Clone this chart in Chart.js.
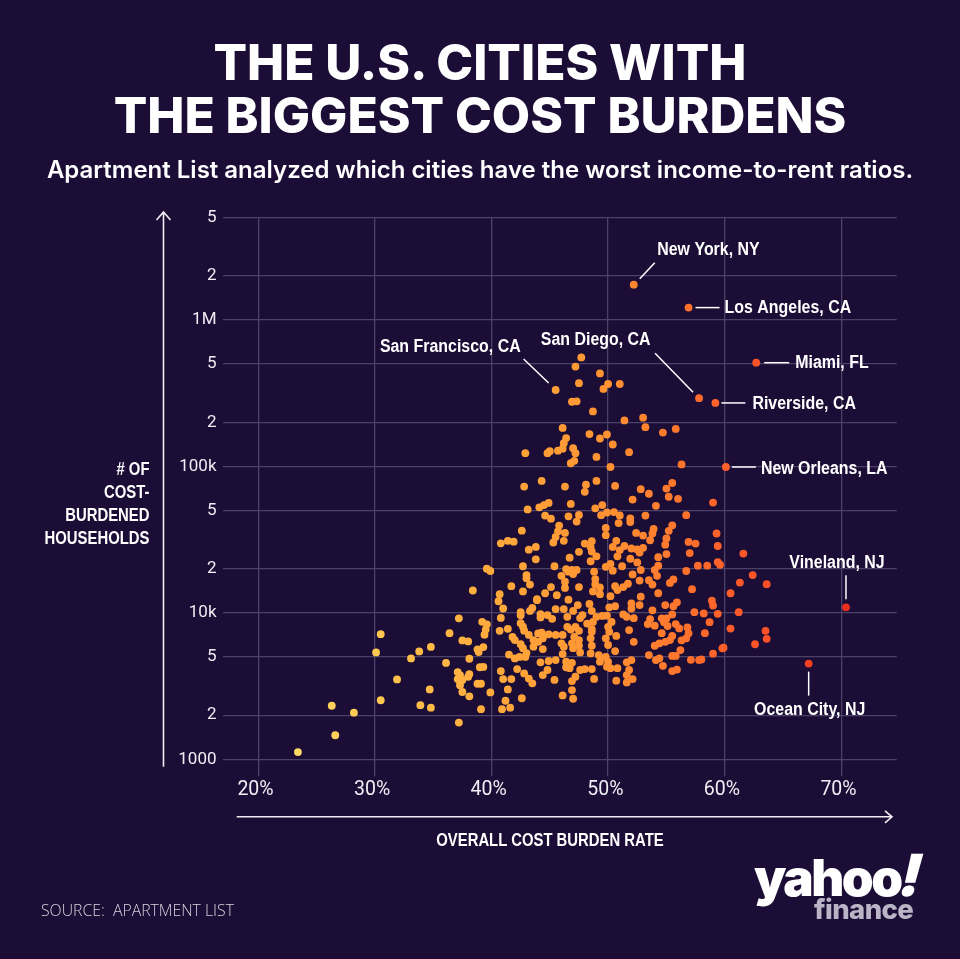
<!DOCTYPE html>
<html><head><meta charset="utf-8">
<script src="https://cdn.jsdelivr.net/npm/chart.js@4"></script>
<style>
html,body{margin:0;padding:0;background:#1b0d35;width:960px;height:959px;overflow:hidden}
#wrap{position:relative;width:960px;height:959px}
canvas{position:absolute;left:0;top:0}
.t{position:absolute;color:#fff;white-space:nowrap}
.h{font-family:Inter;font-weight:800;font-size:49.65px;line-height:54px;left:0;width:960px;text-align:center}
.n{font-family:"Liberation Sans";font-weight:700;font-size:17.5px;line-height:23px}
</style></head><body>
<div id="wrap">
<canvas id="c" width="960" height="959"></canvas>
<div class="t h" style="top:35px">THE U.S. CITIES WITH</div>
<div class="t h" style="top:88px">THE BIGGEST COST BURDENS</div>
<div class="t" style="left:0;width:960px;text-align:center;top:155px;font-family:Inter;font-weight:600;font-size:24px;line-height:30px">Apartment List analyzed which cities have the worst income-to-rent ratios.</div>
<div class="t n" style="right:811px;top:458px;text-align:right;transform:scaleX(.85);transform-origin:right top">&#35; OF<br>COST-<br>BURDENED<br>HOUSEHOLDS</div>
<div class="t n" style="left:0;width:1100px;text-align:center;top:829px;transform:scaleX(.85);transform-origin:550px 0">OVERALL COST BURDEN RATE</div>
<div class="t" style="left:41px;top:900px;font-family:'Open Sans';font-weight:300;font-size:15.8px;line-height:20px;color:#d5d2dc;white-space:pre">SOURCE:  APARTMENT LIST</div>
<div class="t" style="left:754px;top:848px;font-family:Inter;font-weight:900;font-size:51px;line-height:60px;letter-spacing:-2.5px">yahoo<span style="display:inline-block;transform:skewX(-14deg);font-size:58px;line-height:50px">!</span></div>
<div class="t" style="left:814px;top:894px;font-family:Inter;font-weight:800;font-size:27.5px;line-height:30px;letter-spacing:-.6px;color:#b9b5c6">finance</div>
</div>
<script>
const rates=[47.7,47.2,49.3,47.5,50,51,49.6,46.9,47.3,48.7,51.4,53,53.2,54.7,55.8,46.1,48.4,49.3,49.9,50.4,51.8,46.4,46.2,46.1,45.7,45,44.8,42.9,47,47.2,47.1,46.8,49,50.2,56.3,55.5,55,52.8,53.5,50.6,49,48.1,48,46.3,44.3,42.8,55.2,56,52.1,54.1,43.1,44.1,44.5,44.9,46.8,48.9,49.5,44.6,45.1,46.6,47.5,47.3,49.4,49.9,50.5,51,50.9,51.9,51.9,53.2,56.7,59,55.5,55.2,53.9,53.8,53.6,52.4,53,49.8,49.8,45.8,45.7,46.3,45.5,45.3,46.2,42.6,55,54.9,56.9,57.5,50.7,41.4,41.9,40.8,48,48.6,48.5,43.8,43.2,43.8,50.4,51.4,51,52,52.5,53,52.7,50.8,47.5,48.6,49,48.5,46.7,55,54.3,57,59.3,59.4,61.6,59.4,59.6,57.7,58.5,51.9,52.5,42.7,45.4,46.4,46.9,47.3,47,46.6,48.8,49.8,50.2,50.4,51.2,52.8,52.1,54.3,54,54.2,56.7,43,43,46,46.3,46.3,48.9,48.9,52.7,53.5,53.8,55.6,55.3,43.3,41.7,45.1,47.5,49.3,48.7,49.3,51.7,51.3,50.6,50.8,57.2,62.4,61.3,63.6,60.5,42.7,44.6,43.9,43.9,45.6,46.6,54.3,52.8,50.2,38.4,39.6,39.9,40.7,40.6,41,40.8,40.7,41.4,37.2,36.4,39.2,39.6,39.5,39.4,37.5,38,39.3,38.8,38.9,38.1,41.5,39,39.3,40.8,37.1,37.3,38.1,38,37.1,37.5,37.3,37.3,41,38.8,39.1,41.4,39.9,37.5,38.1,41.2,39.1,40.9,41.6,37.2,23.4,26.6,26.3,28.2,30.5,30.5,30.1,31.9,33.1,33.8,34.8,36.1,34.7,33.9,34.8,43.5,43.3,42.5,42.5,45.5,46.2,47.4,47,46.5,48.4,48.6,47.8,47.6,50.1,50.6,49.5,49.9,52,52,52.7,53.8,54.9,55.6,55.9,57.4,58.9,59,61.2,58.2,59.4,58.7,60.5,63.5,63.6,62.6,59.9,59.8,59,58.3,57.1,57.8,58,44.2,44.2,44.8,45.2,51.3,51.6,52.2,49,48.7,48.2,48.6,50.3,50,50.1,55.5,55,54.6,54.8,55.1,53.6,53.4,54,55.8,56.1,56.8,56.9,56.7,56.3,56.2,51.8,50.7,52.2,54.6,55.5,55.3,54.9,54.4,54,42.5,42.7,42.8,41.8,42,43.2,43.6,44,44.3,44.9,44.4,44,43.6,42.5,42.7,43,45.5,46.1,46.5,46.8,47.2,47.5,47.1,47.5,46.9,47.5,46,46.2,47,47.6,48.6,48.5,48.6,48.5,49.8,50,50.6,42,42.4,42.9,44.4,46.1,45.5,44.9,44.2,49.2,49.8,50,49.9,50.2,50.8,46.4,46.9,46.7,46.4,47.6,48,48.6,47.2,46.9,49.3,52,51.6,53.5,54.1,54.4,54.7,55.5,55.8,55.5,55.9,51.8,51.6,51.6,52.1,50.7,48.8,45.4,44.8,44.4,42.2,42.8,43.2,43.5,41.7,42.6,46.1,46.9,47];
const households=[554000,480000,431000,370000,365000,365000,338000,276000,278000,237000,206000,215000,185000,170000,180000,183000,166000,155000,165000,141000,125000,156000,144000,132000,128000,127000,123000,123000,133000,123000,109000,105000,116000,99000,103000,77000,70500,69800,65000,73500,79500,75000,67000,72800,79500,72800,62000,60000,59300,53800,50800,52500,54400,56300,55400,51700,54400,46100,43900,45600,46600,42000,46400,48400,48700,46200,41000,44200,41700,46100,46400,56600,39600,36300,37400,34800,31300,35100,33700,38000,33900,39400,36000,35100,33000,30200,31000,36400,32200,29200,30500,29700,31000,31000,30600,29800,29700,30800,28200,28200,27000,23200,28200,28600,26800,27500,27100,27800,25800,24300,26100,26200,24300,22500,23800,25200,24000,25600,34800,28600,25400,22200,21300,21000,21000,23400,22100,20800,20800,19900,19600,19600,18400,19100,19100,20600,21600,19400,20800,19600,18300,21000,19600,17900,19300,18100,17200,17900,16300,14800,17000,15700,16600,16700,15600,16900,16000,15600,15200,15000,15000,14900,14000,13400,15800,15000,15200,14300,14500,18100,16100,15700,13600,14000,13600,12400,12200,13200,12300,13600,12900,13000,14200,20000,19300,13400,12000,10700,9230,7530,7780,9170,7260,8680,8340,7690,7090,6480,6380,5840,5630,5400,4860,5190,4250,4270,4000,3940,3760,3820,3660,3530,3480,3390,3200,3530,3280,3280,3000,2860,2880,2690,2510,2200,2200,2250,1780,1120,1460,2320,2080,2530,7150,5370,3510,4880,5450,5850,4550,3000,2340,2250,10800,10300,10100,9620,10600,10600,11300,10300,9390,11500,10300,9660,9210,10900,11100,9520,9560,11600,10700,11300,10400,11300,11100,11800,10100,12100,11200,10100,9900,9840,8640,7810,7530,6650,6100,5780,5720,5260,7260,4780,4760,4810,9800,9300,9660,9100,9750,9390,9200,9390,8670,8450,7750,8670,8020,7420,9750,9170,9170,8610,8130,9070,8380,8170,8380,7830,7950,7240,6700,6490,5570,7630,6950,6340,7260,6950,6520,6340,6190,5960,8500,8050,7550,6840,6520,7060,6520,7230,7310,7130,6700,6340,5870,6110,5740,5310,7060,7060,8020,7690,8020,7530,6840,6520,6190,5960,6190,5870,5740,5370,7420,6700,5960,5280,6700,6030,5480,4880,5000,5000,5660,5230,4760,4690,4590,5150,5000,4630,4290,4190,4190,4640,4560,4190,4250,4070,4130,4130,3660,3420,4640,4760,4590,5150,4760,4890,4350,5080,5080,4000,4100,4070,3760,3350,3530,3440,3540,3480,4070,3760,4130,3860,3560,3300,3530,2610,2730,2970,2590];
const cityNames=["New York, NY","Los Angeles, CA","Miami, FL","San Diego, CA","Riverside, CA","New Orleans, LA","San Francisco, CA","Vineland, NJ","Ocean City, NJ"];
const cityRates=[52.2,56.9,62.7,57.8,59.2,60.1,45.5,70.4,67.2];
const cityHouseholds=[1740000,1213000,510000,292000,271000,99000,332000,10900,4500];
const xTickValues=[20,30,40,50,60,70];
const xTickLabels=["20%","30%","40%","50%","60%","70%"];
const yTickValues=[1000,2000,5000,10000,20000,50000,100000,200000,500000,1000000,2000000,5000000];
const yTickLabels=["1000","2","5","10k","2","5","100k","2","5","1M","2","5"];

// label position and leader line, as pixel offsets from each city's point
const cityStyle=[
 {a:"left",lx:23.5,ly:-34.5,l:[6,-6,21,-22]},
 {a:"left",lx:36,ly:0.5,l:[7,0,31,0]},
 {a:"left",lx:39,ly:0.5,l:[8,0,33,0]},
 {a:"right",lx:-48.5,ly:-58,l:[-6,-6,-44,-45]},
 {a:"left",lx:37,ly:1,l:[6,0,30,0]},
 {a:"left",lx:35,ly:2,l:[6,0,30,0]},
 {a:"right",lx:-35,ly:-42.5,l:[-7,-7,-32,-31]},
 {a:"center",lx:-9,ly:-44,l:[0,-8,0,-32]},
 {a:"center",lx:1,ly:46,l:[0,8,0,32]}
];
const stops=[[23,255,217,102],[30,255,200,80],[40,255,170,60],[50,255,146,50],[55,255,122,46],[60,255,95,42],[65,248,74,38],[71,236,44,30]];
function colorFor(v){
  for(let i=1;i<stops.length;i++){
    if(v<=stops[i][0]){
      const a=stops[i-1],b=stops[i],t=Math.max(0,(v-a[0])/(b[0]-a[0]));
      return `rgb(${[1,2,3].map(k=>Math.round(a[k]+(b[k]-a[k])*t)).join(",")})`;
    }
  }
  return "rgb(236,44,30)";
}
const pts=rates.map((x,i)=>({x,y:households[i]})).concat(cityRates.map((x,i)=>({x,y:cityHouseholds[i]})));
const grid="rgb(76,66,104)";
const annot={id:"annot",afterDatasetsDraw(ch){
  const c=ch.ctx,X=ch.scales.x,Y=ch.scales.y;
  c.save();
  c.strokeStyle="#fff";c.fillStyle="#fff";c.lineWidth=1.5;
  c.font="700 18px 'Liberation Sans'";
  c.textBaseline="middle";
  cityNames.forEach((n,i)=>{
    const px=X.getPixelForValue(cityRates[i]),py=Y.getPixelForValue(cityHouseholds[i]),s=cityStyle[i];
    c.beginPath();c.moveTo(px+s.l[0],py+s.l[1]);c.lineTo(px+s.l[2],py+s.l[3]);c.stroke();
    c.save();c.translate(px+s.lx,py+s.ly);c.scale(.885,1);
    c.textAlign=s.a;c.fillText(n,0,0);
    c.restore();
  });
  c.strokeStyle="#f0eef4";c.lineWidth=1.6;
  c.beginPath();
  c.moveTo(163.5,766.7);c.lineTo(163.5,212);c.moveTo(156.5,220);c.lineTo(163.5,212);c.lineTo(170.5,220);
  c.moveTo(236.7,816.8);c.lineTo(892,816.8);c.moveTo(885,810.8);c.lineTo(892,816.8);c.lineTo(885,822.8);
  c.stroke();
  c.restore();
}};
new Chart(document.getElementById("c"),{
  type:"scatter",
  data:{datasets:[{data:pts,pointRadius:3.9,pointHoverRadius:3.9,borderWidth:0,
    backgroundColor:ctx=>colorFor(ctx.raw?ctx.raw.x:50)}]},
  plugins:[annot],
  options:{
    responsive:false,animation:false,
    layout:{padding:{left:0,top:217.5,right:63.3,bottom:0}},
    plugins:{legend:{display:false},tooltip:{enabled:false}},
    scales:{
      x:{type:"linear",min:16.93,max:74.75,
        afterBuildTicks(s){s.ticks=xTickValues.map(value=>({value}));},
        afterFit(s){s.height=199.7;},
        grid:{color:grid,lineWidth:1.3,tickLength:17,tickColor:grid},
        border:{display:false},
        ticks:{autoSkip:false,maxRotation:0,color:"#f0eef4",font:{family:"Roboto",size:19.5,weight:"400"},padding:2,labelOffset:-2.8,
          callback:(v,i)=>xTickLabels[i]}},
      y:{type:"logarithmic",min:1000,max:5000000,
        afterBuildTicks(s){s.ticks=yTickValues.map(value=>({value}));},
        afterFit(s){s.width=222.5;},
        grid:{color:grid,lineWidth:1.3,drawTicks:false},
        border:{display:false},
        ticks:{autoSkip:false,color:"#f0eef4",font:{family:"Roboto",size:17,weight:"400"},padding:6,
          callback:(v,i)=>yTickLabels[i]}}
    }
  }
});
</script>
</body></html>
